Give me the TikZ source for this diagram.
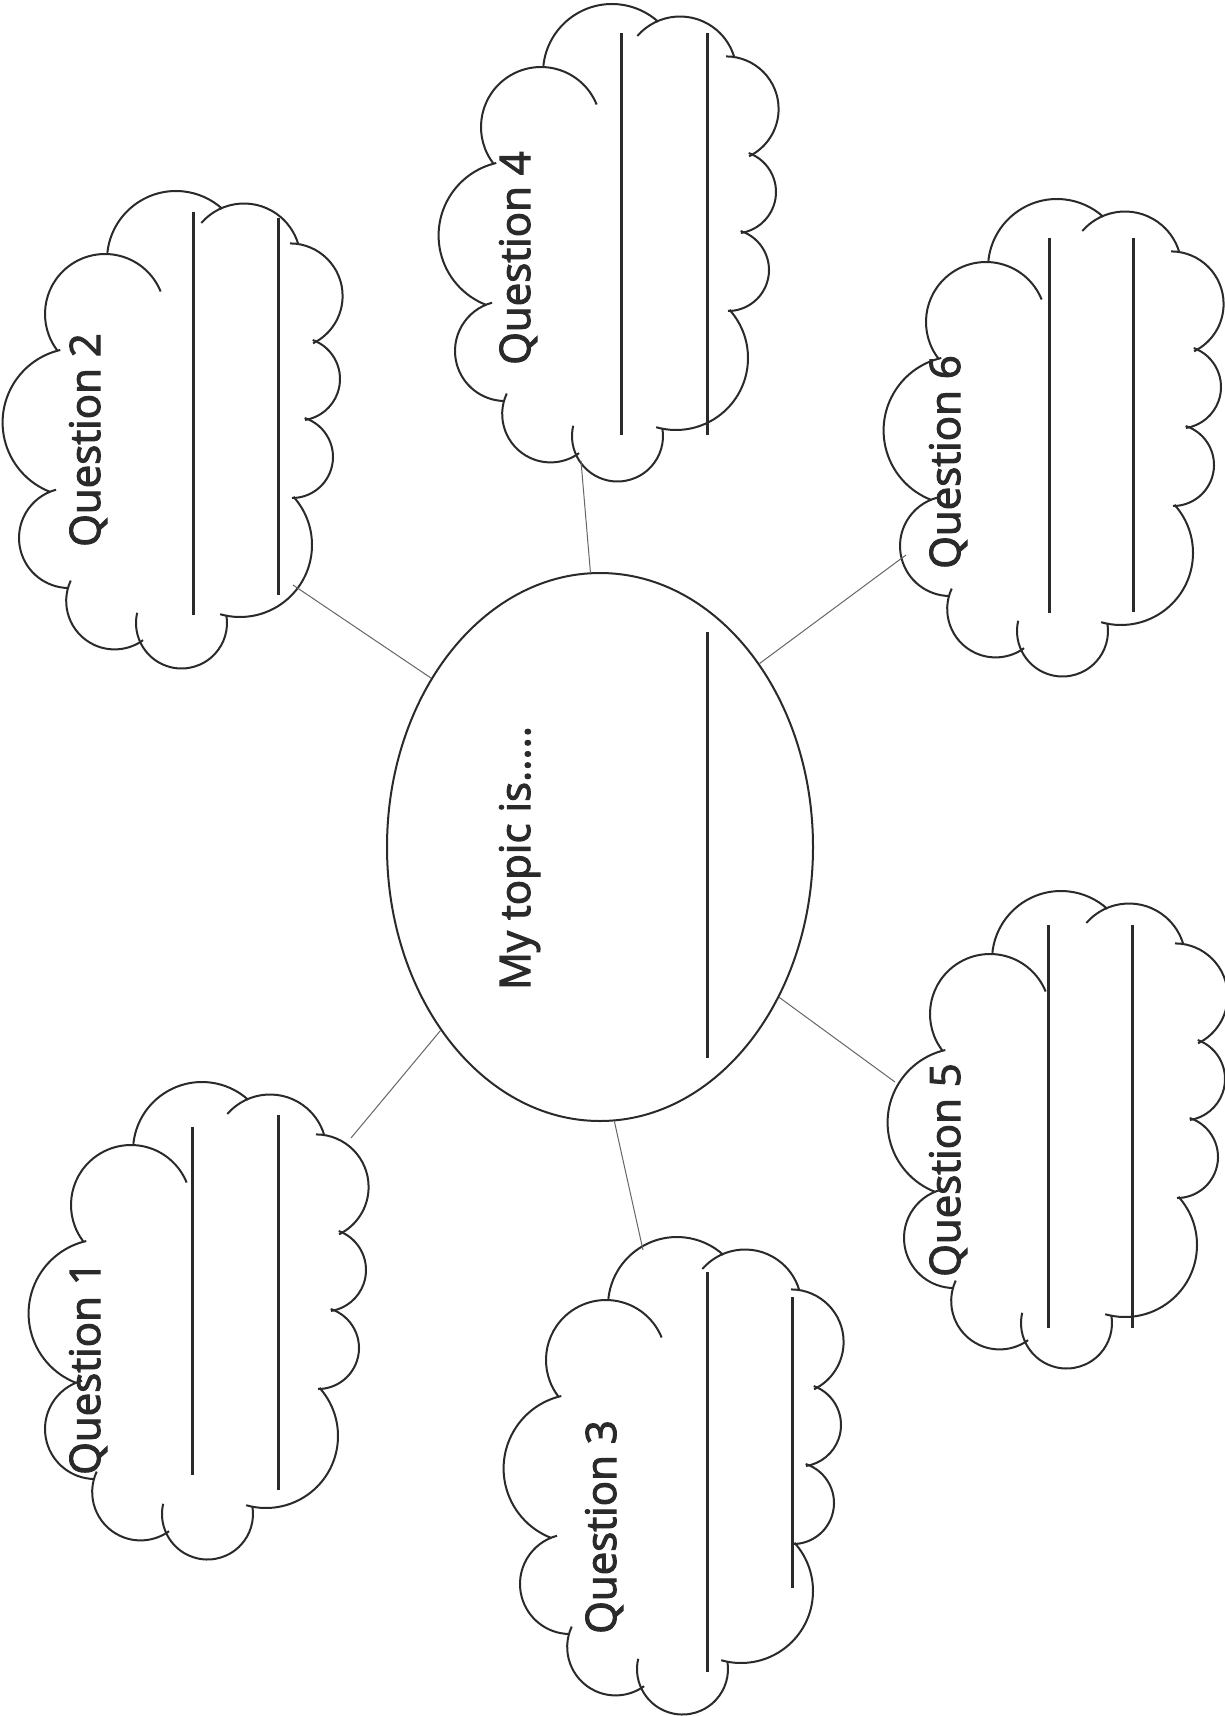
\documentclass[tikz,border=0pt]{standalone}
\usepackage{fontspec}
\setmainfont{Open Sans}
\newfontfamily\qfont[FakeBold=2.5]{Open Sans}
\usetikzlibrary{shapes.geometric}
\definecolor{ink}{HTML}{2A2A2A}
\definecolor{thin}{HTML}{666666}
\newcommand\qlobe[5]{\draw[cloudstroke] (#1,#2) ++(#3:#5) arc[start angle=#3,end angle=#4,radius=#5];}
\tikzset{
  cloudstroke/.style={draw=ink, line width=2pt},
  writeline/.style={draw=ink, line width=3pt},
  conn/.style={draw=thin, line width=1pt},
  qtext/.style={rotate=90, anchor=base, inner sep=0pt, text=ink, font=\qfont\fontsize{42}{50}\selectfont},
  qcloud/.pic={
    \qlobe{176}{260}{186}{312}{69}
    \qlobe{244}{260}{221}{343}{56.5}
    \qlobe{290}{296}{-90}{64}{52.6}
    \qlobe{298.5}{379}{-70}{81}{41.5}
    \qlobe{292}{457}{-72}{90}{41}
    \qlobe{240}{545}{-42}{106}{72}
    \qlobe{181.5}{623}{193}{-10}{45.5}
    \qlobe{114.6}{601}{205}{54}{48.4}
    \qlobe{69}{538}{255}{91}{50}
    \qlobe{77}{422.5}{257}{111}{74.4}
    \qlobe{105}{314}{142}{338}{60}
  }
}
\begin{document}
\begin{tikzpicture}[x=1pt, y=-1pt]
  \fill[white] (0,0) rectangle (1225,1716);
  \useasboundingbox (0,0) rectangle (1225,1716);

  % central ellipse
  \node[draw=ink, line width=2pt, ellipse, minimum width=426pt, minimum height=548pt, inner sep=0pt] (topic) at (600,847) {};
  \node[qtext] (topictext) at (530,858) {My topic is.....};
  \draw[writeline] (707,632) -- (707,1058);

  % clouds
  \pic (cloud2) at (0,0) {qcloud};
  \pic (cloud4) at (436,-187) {qcloud};
  \pic (cloud6) at (881,8) {qcloud};
  \pic (cloud1) at (26,891) {qcloud};
  \pic (cloud3) at (501,1046) {qcloud};
  \pic (cloud5) at (885,700) {qcloud};

  % texts
  \node[qtext] (q2) at (100,440) {Question 2};
  \node[qtext] (q4) at (530,258) {Question 4};
  \node[qtext] (q6) at (960,462) {Question 6};
  \node[qtext] (q1) at (100,1368) {Question 1};
  \node[qtext] (q3) at (616,1527) {Question 3};
  \node[qtext] (q5) at (960,1170) {Question 5};

  % writing lines
  \draw[writeline] (193,212) -- (193,615);
  \draw[writeline] (278,218) -- (278,595);
  \draw[writeline] (621,33) -- (621,435);
  \draw[writeline] (707,33) -- (707,435);
  \draw[writeline] (1049,238) -- (1049,613);
  \draw[writeline] (1133,238) -- (1133,612);
  \draw[writeline] (192,1127) -- (192,1475);
  \draw[writeline] (278,1115) -- (278,1490);
  \draw[writeline] (707,1272) -- (707,1672);
  \draw[writeline] (792,1297) -- (792,1588);
  \draw[writeline] (1048,925) -- (1048,1328);
  \draw[writeline] (1132,925) -- (1132,1328);

  % connector ends on clouds
  \coordinate (e2) at (293,585);
  \coordinate (e4) at (581,461);
  \coordinate (e6) at (906,555);
  \coordinate (e1) at (351,1138);
  \coordinate (e3) at (643,1250);
  \coordinate (e5) at (895,1082);

  \draw[conn] (e2) -- (topic.135.3);
  \draw[conn] (e4) -- (topic.92.9);
  \draw[conn] (e6) -- (topic.49.1);
  \draw[conn] (e1) -- (topic.-131.1);
  \draw[conn] (e3) -- (topic.-87.4);
  \draw[conn] (e5) -- (topic.-40.8);
\end{tikzpicture}
\end{document}
